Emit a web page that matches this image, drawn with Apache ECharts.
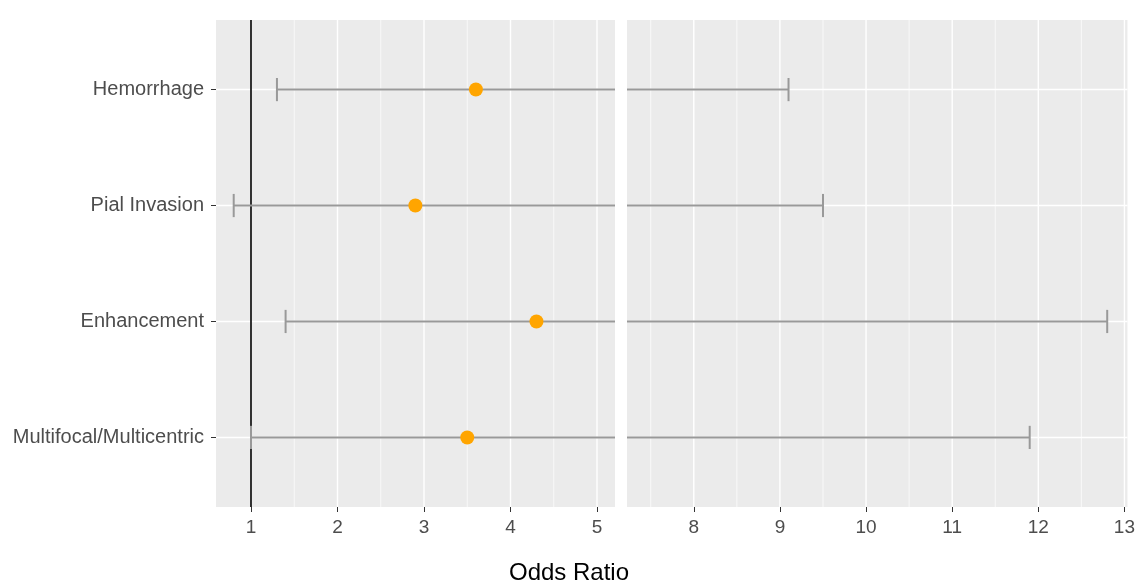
<!DOCTYPE html>
<html>
<head>
<meta charset="utf-8">
<script src="https://cdn.jsdelivr.net/npm/echarts@6/dist/echarts.min.js"></script>
<style>
html, body { margin: 0; padding: 0; background: #fff; }
#main { width: 1138px; height: 581px; }
</style>
</head>
<body>
<div id="main"></div>
<script>
// 类别，从下到上
var categories = ['Multifocal/Multicentric', 'Enhancement', 'Pial Invasion', 'Hemorrhage'];
var catPos = [1, 2, 3, 4];
// 点估计和置信区间
var oddsRatio = [3.5, 4.3, 2.9, 3.6];
var lowerCI = [1.0, 1.4, 0.8, 1.3];
var upperCI = [11.9, 12.8, 9.5, 9.1];

// 刻度
var leftTicks = [1, 2, 3, 4, 5];
var leftMinor = [1.5, 2.5, 3.5, 4.5];
var rightTicks = [8, 9, 10, 11, 12, 13];
var rightMinor = [7.5, 8.5, 9.5, 10.5, 11.5, 12.5];
var refLine = [1];

var font = 'Liberation Sans, Arial, sans-serif';

// 竖线 (网格线或参考线)
function vLine(color, width) {
  return function (params, api) {
    var cs = params.coordSys;
    var x = api.coord([api.value(0), 1])[0];
    return {
      type: 'line',
      shape: { x1: x, y1: cs.y, x2: x, y2: cs.y + cs.height },
      style: { stroke: color, lineWidth: width }
    };
  };
}
// 横线
function hLine(params, api) {
  var cs = params.coordSys;
  var y = api.coord([0, api.value(1)])[1];
  return {
    type: 'line',
    shape: { x1: cs.x, y1: y, x2: cs.x + cs.width, y2: y },
    style: { stroke: '#fff', lineWidth: 1.4 }
  };
}

// 误差线，超出面板的部分截掉
function errorBar(params, api) {
  var cs = params.coordSys;
  var y = api.value(2);
  var lo = api.coord([api.value(0), y]);
  var hi = api.coord([api.value(1), y]);
  var capH = api.size([0, 0.2])[1] / 2;
  var x0 = Math.max(lo[0], cs.x);
  var x1 = Math.min(hi[0], cs.x + cs.width);
  if (x1 <= x0) return;
  var st = { stroke: '#999999', lineWidth: 2 };
  var children = [{ type: 'line', shape: { x1: x0, y1: lo[1], x2: x1, y2: lo[1] }, style: st }];
  if (lo[0] >= cs.x) {
    children.push({ type: 'line', shape: { x1: lo[0], y1: lo[1] - capH, x2: lo[0], y2: lo[1] + capH }, style: st });
  }
  if (hi[0] <= cs.x + cs.width) {
    children.push({ type: 'line', shape: { x1: hi[0], y1: hi[1] - capH, x2: hi[0], y2: hi[1] + capH }, style: st });
  }
  return { type: 'group', children: children };
}

var barData = catPos.map(function (p, i) { return [lowerCI[i], upperCI[i], p]; });
var pointData = catPos.map(function (p, i) { return [oddsRatio[i], p]; });
var hData = catPos.map(function (p) { return [0, p]; });
function toData(arr) { return arr.map(function (v) { return [v, 0]; }); }

function xAxisFor(idx, min, max, ticks) {
  return {
    type: 'value', gridIndex: idx, min: min, max: max,
    axisLine: { show: false },
    splitLine: { show: false },
    axisTick: { show: true, length: 5, customValues: ticks, lineStyle: { color: '#333', width: 1 } },
    axisLabel: { customValues: ticks, margin: 11, color: '#4D4D4D', fontSize: 19, fontFamily: font }
  };
}

var myChart = echarts.init(document.getElementById('main'));

var option = {
  animation: false,
  backgroundColor: '#fff',
  title: {
    text: 'Odds Ratio', left: 'center', top: 556,
    textStyle: { color: '#000', fontSize: 24, fontWeight: 'normal', fontFamily: font }
  },
  grid: [
    { left: 216, top: 20, width: 399, height: 487, show: true, backgroundColor: '#EBEBEB', borderWidth: 0 },
    { left: 627, top: 20, width: 502, height: 487, show: true, backgroundColor: '#EBEBEB', borderWidth: 0 }
  ],
  xAxis: [
    xAxisFor(0, 0.5954, 5.208, leftTicks),
    xAxisFor(1, 7.2245, 13.035, rightTicks)
  ],
  yAxis: [
    {
      type: 'value', gridIndex: 0, min: 0.4, max: 4.6,
      axisLine: { show: false }, splitLine: { show: false },
      axisTick: { show: true, length: 5, customValues: catPos, lineStyle: { color: '#333', width: 1 } },
      axisLabel: {
        customValues: catPos, margin: 12, color: '#4D4D4D', fontSize: 20, fontFamily: font,
        formatter: function (v) { return categories[Math.round(v) - 1]; }
      }
    },
    {
      type: 'value', gridIndex: 1, min: 0.4, max: 4.6,
      axisLine: { show: false }, splitLine: { show: false },
      axisTick: { show: false }, axisLabel: { show: false }
    }
  ],
  series: [
    // 网格线
    { type: 'custom', xAxisIndex: 0, yAxisIndex: 0, z: 1, silent: true, renderItem: vLine('#fff', 0.7), data: toData(leftMinor) },
    { type: 'custom', xAxisIndex: 0, yAxisIndex: 0, z: 1, silent: true, renderItem: vLine('#fff', 1.4), data: toData(leftTicks) },
    { type: 'custom', xAxisIndex: 0, yAxisIndex: 0, z: 1, silent: true, renderItem: hLine, data: hData },
    { type: 'custom', xAxisIndex: 1, yAxisIndex: 1, z: 1, silent: true, renderItem: vLine('#fff', 0.7), data: toData(rightMinor) },
    { type: 'custom', xAxisIndex: 1, yAxisIndex: 1, z: 1, silent: true, renderItem: vLine('#fff', 1.4), data: toData(rightTicks) },
    { type: 'custom', xAxisIndex: 1, yAxisIndex: 1, z: 1, silent: true, renderItem: hLine, data: hData },
    // x=1 参考线
    { type: 'custom', xAxisIndex: 0, yAxisIndex: 0, z: 2, silent: true, renderItem: vLine('#000', 1.6), data: toData(refLine) },
    // 误差线
    { type: 'custom', xAxisIndex: 0, yAxisIndex: 0, z: 3, renderItem: errorBar, data: barData },
    { type: 'custom', xAxisIndex: 1, yAxisIndex: 1, z: 3, renderItem: errorBar, data: barData },
    // 点
    {
      type: 'scatter', xAxisIndex: 0, yAxisIndex: 0, z: 4,
      symbolSize: 14, itemStyle: { color: '#FFA500', opacity: 1 },
      data: pointData
    }
  ]
};

myChart.setOption(option);
</script>
</body>
</html>
